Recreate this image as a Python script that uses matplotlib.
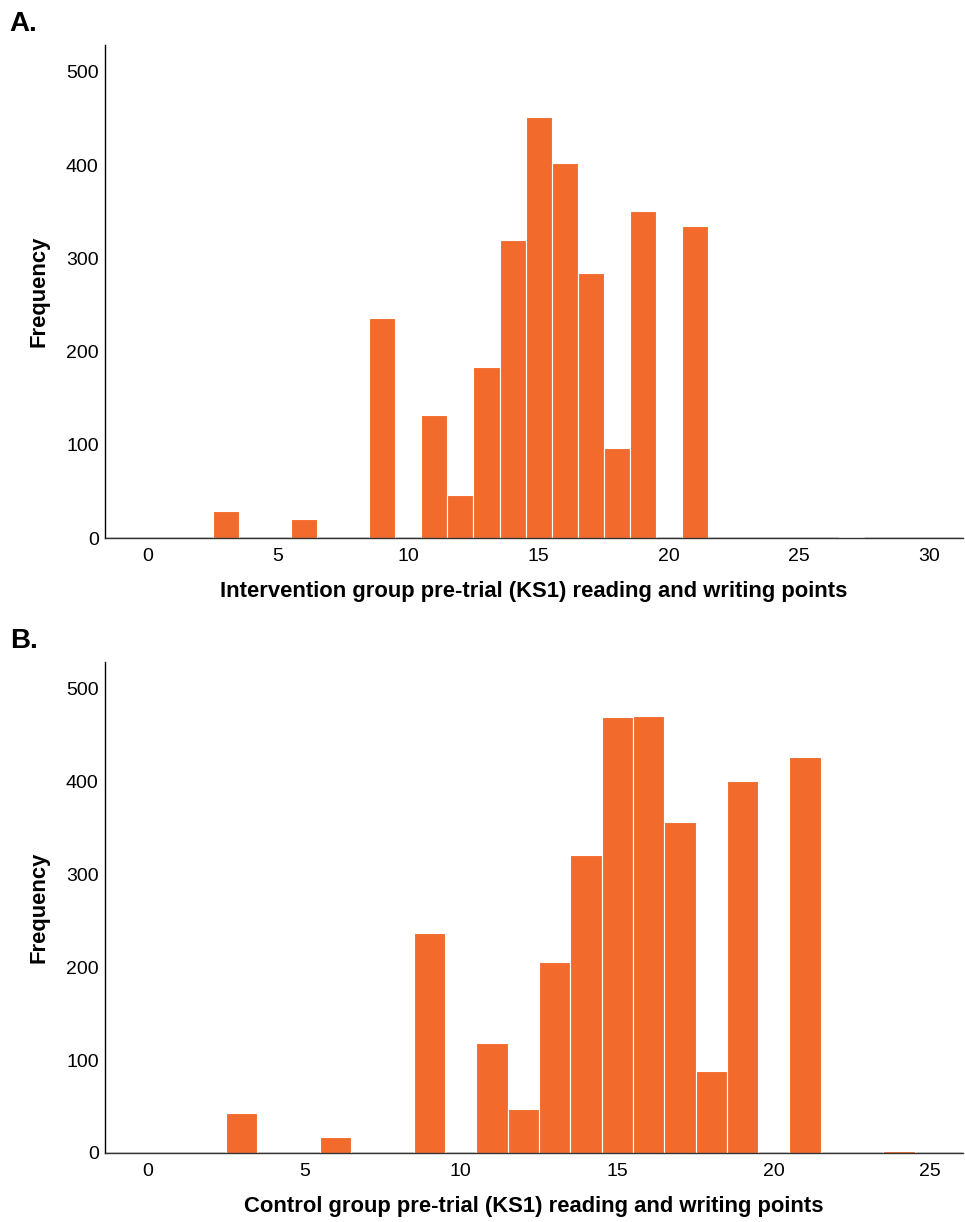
import numpy as np
import matplotlib.pyplot as plt

plt.rcParams['font.family'] = ['Liberation Sans', 'DejaVu Sans']

# Pontos KS1 (centro de cada barra) e frequências
points_a = [3, 6, 9, 11, 12, 13, 14, 15, 16, 17, 18, 19, 21, 27]
freq_a = [29, 20, 236, 132, 46, 183, 320, 452, 402, 284, 97, 351, 335, 1]

points_b = [3, 6, 9, 11, 12, 13, 14, 15, 16, 17, 18, 19, 21, 24]
freq_b = [43, 17, 237, 119, 47, 206, 321, 470, 471, 357, 88, 401, 427, 2]

xticks_a = [0, 5, 10, 15, 20, 25, 30]
xticks_b = [0, 5, 10, 15, 20, 25]
yticks = [0, 100, 200, 300, 400, 500]

color = '#F26A2C'

fig = plt.figure(figsize=(9.65, 12.22), dpi=100)
ax_a = fig.add_axes([0.1088, 0.5597, 0.8892, 0.4036])
ax_b = fig.add_axes([0.1088, 0.0565, 0.8892, 0.4018])

panels = [
    (ax_a, points_a, freq_a, xticks_a, (-1.65, 31.3), 'A.',
     'Intervention group pre-trial (KS1) reading and writing points'),
    (ax_b, points_b, freq_b, xticks_b, (-1.37, 26.05), 'B.',
     'Control group pre-trial (KS1) reading and writing points'),
]

for ax, pts, fr, xt, xl, letter, xlabel in panels:
    ax.bar(pts, fr, width=1.0, color=color, edgecolor='white', linewidth=0.8)
    ax.set_xlim(*xl)
    ax.set_ylim(0, 529)
    ax.set_xticks(xt)
    ax.set_yticks(yticks)
    ax.tick_params(axis='x', length=0, labelsize=14, pad=7)
    ax.tick_params(axis='y', length=0, labelsize=14, pad=4.5)
    for s in ['top', 'right']:
        ax.spines[s].set_visible(False)
    ax.spines['left'].set_linewidth(1.0)
    ax.spines['bottom'].set_linewidth(1.0)
    ax.spines['bottom'].set_color('#333333')
    ax.set_xlabel(xlabel, fontsize=15.8, fontweight='bold', labelpad=11.5)
    ax.set_ylabel('Frequency', fontsize=15.8, fontweight='bold', labelpad=12)
    # linha de base em todo o eixo
    ax.axhline(0, color='#333333', linewidth=1.0, zorder=0)

fig.text(0.010, 0.9800, 'A.', fontsize=20, fontweight='bold', va='center')
fig.text(0.010, 0.4755, 'B.', fontsize=20, fontweight='bold', va='center')

fig.savefig('out.png', dpi=100)
